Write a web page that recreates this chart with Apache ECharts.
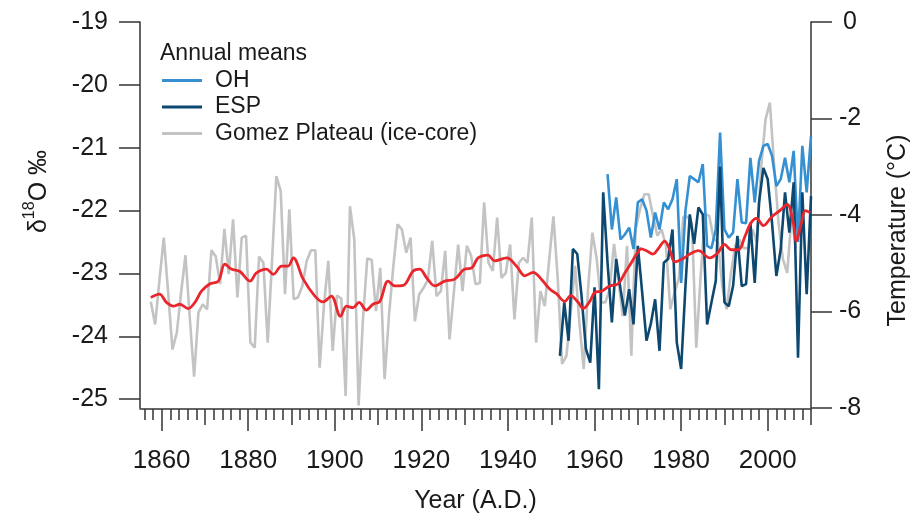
<!DOCTYPE html>
<html>
<head>
<meta charset="utf-8">
<script src="https://cdn.jsdelivr.net/npm/echarts@6/dist/echarts.min.js"></script>
<style>
  html, body { margin: 0; padding: 0; background: #ffffff; }
  #chart { width: 915px; height: 517px; }
</style>
</head>
<body>
<div id="chart"></div>
<script>
// Axis tick labels
const yearLabels = [1860, 1880, 1900, 1920, 1940, 1960, 1980, 2000];
const d18OTicks = [-19, -20, -21, -22, -23, -24, -25];
const tempTicks = [0, -2, -4, -6, -8];

// Gomez Plateau ice-core d18O, annual, first year 1857
const gomezStart = 1857;
const gomezD18O = [
  -23.45, -23.81, -23.1, -22.43, -23.3, -24.21, -23.94, -23.3, -22.71, -23.7,
  -24.64, -23.62, -23.49, -23.57, -22.63, -22.73, -23.17, -22.29, -23.01, -22.14,
  -23.38, -22.43, -22.40, -24.10, -24.18, -22.73, -22.83, -24.10, -22.8, -21.45,
  -21.69, -23.33, -21.98, -23.41, -23.38, -23.2, -22.8, -22.63, -22.63, -24.5,
  -23.5, -22.8, -24.23, -23.35, -23.4, -24.95, -21.93, -22.46, -25.1, -23.73,
  -22.76, -22.78, -23.60, -22.91, -24.68, -23.68, -22.9, -22.22, -22.30, -22.67,
  -22.43, -23.76, -23.33, -23.23, -23.1, -22.48, -23.36, -23.28, -22.64, -24.05,
  -23.3, -22.54, -23.28, -22.56, -22.72, -23.17, -23.15, -21.87, -22.83, -22.96,
  -22.11, -23.07, -22.99, -22.54, -23.73, -22.83, -22.75, -22.83, -22.11, -24.10,
  -23.28, -23.52, -22.8, -22.09, -23.09, -24.44, -24.31, -23.62, -22.88, -23.78,
  -24.52, -23.25, -22.35, -22.77, -23.46, -23.46, -23.25, -22.53, -23.09, -23.68,
  -22.56, -24.31, -22.30, -21.98, -21.74, -21.74, -22.08, -22.40, -22.3, -22.56,
  -23.57, -23.3, -23.07, -22.1, -22.1, -22.2, -24.18, -23.05, -22.06, -22.08,
  -22.45, -22.5, -23.2, -23.57, -23.0, -22.56, -22.46, -22.6, -22.6, -22.3,
  -22.5, -21.3, -20.55, -20.28, -21.3, -22.2, -22.77, -22.99, -22.1, -22.6
];

// OH d18O, annual, first year 1963
const ohStart = 1963;
const ohD18O = [
  -21.42, -22.30, -21.79, -22.46, -22.38, -22.27, -22.61, -21.87, -21.82, -22.0,
  -22.43, -22.03, -22.30, -21.87, -21.98, -21.82, -21.50, -23.15, -22.0, -21.45,
  -21.5, -21.55, -21.26, -22.56, -22.6, -22.3, -20.76, -22.30, -22.43, -22.35,
  -21.5, -22.19, -22.2, -21.16, -21.87, -21.21, -20.97, -20.94, -21.13, -21.61,
  -21.5, -21.16, -21.55, -21.05, -22.5, -20.97, -21.71, -20.81
];

// ESP d18O, annual, first year 1952
const espStart = 1952;
const espD18O = [
  -24.31, -23.46, -24.07, -22.61, -22.69, -23.36, -24.2, -24.42, -23.22, -24.84,
  -21.71, -22.83, -23.78, -22.77, -23.25, -23.67, -23.25, -23.81, -22.56, -23.30,
  -24.07, -23.8, -23.41, -24.23, -22.83, -22.77, -22.30, -24.1, -24.52, -23.2,
  -22.06, -22.53, -21.95, -22.06, -23.81, -23.46, -23.12, -21.30, -23.46, -23.52,
  -23.2, -22.4, -23.2, -23.17, -22.19, -23.15, -21.87, -21.32, -21.5, -22.2,
  -23.04, -22.62, -21.71, -22.35, -21.55, -24.34, -21.71, -23.33, -21.77
];

// Smoothed temperature reconstruction (°C)
const tempYears = [
  1857.5, 1859.5, 1861.1, 1862.7, 1864.2, 1866.1, 1867.7, 1869.2, 1871.1, 1873.1,
  1874.6, 1876.1, 1878.1, 1880.4, 1881.9, 1884.2, 1885.8, 1887.7, 1889.2, 1890.4,
  1892.7, 1895.4, 1897.3, 1899.2, 1901.3, 1902.7, 1904.2, 1905.6, 1907.3, 1908.8,
  1910.4, 1912.3, 1913.9, 1915.8, 1918.1, 1919.6, 1921.2, 1923.1, 1925.4, 1927.7,
  1930.0, 1931.6, 1933.1, 1935.4, 1936.9, 1939.7, 1942.0, 1943.9, 1945.8, 1947.7,
  1949.7, 1951.2, 1953.1, 1954.5, 1956.2, 1957.4, 1958.9, 1960.1, 1961.6, 1963.5,
  1965.4, 1967.0, 1968.5, 1969.7, 1970.8, 1972.0, 1973.5, 1974.7, 1976.2, 1977.4,
  1978.5, 1980.5, 1982.0, 1984.0, 1986.6, 1988.5, 1990.0, 1991.6, 1993.2, 1994.8,
  1996.0, 1997.4, 1999.0, 2000.9, 2002.8, 2004.5, 2005.9, 2006.6, 2007.8, 2008.7,
  2009.8
];
const tempSmooth = [
  -5.71, -5.64, -5.81, -5.89, -5.85, -5.94, -5.81, -5.58, -5.43, -5.37,
  -5.02, -5.12, -5.17, -5.37, -5.20, -5.12, -5.23, -5.06, -5.06, -4.89,
  -5.33, -5.68, -5.80, -5.68, -6.10, -5.89, -5.92, -5.81, -5.97, -5.85,
  -5.79, -5.37, -5.47, -5.46, -5.16, -5.12, -5.30, -5.47, -5.37, -5.33,
  -5.12, -5.10, -4.89, -4.83, -4.95, -4.89, -5.06, -5.26, -5.19, -5.33,
  -5.54, -5.63, -5.79, -5.67, -5.81, -5.94, -5.79, -5.60, -5.58, -5.47,
  -5.43, -5.20, -4.99, -4.81, -4.70, -4.74, -4.81, -4.70, -4.54, -4.72,
  -4.97, -4.90, -4.81, -4.74, -4.89, -4.78, -4.61, -4.72, -4.72, -4.43,
  -4.18, -4.07, -4.22, -4.04, -3.91, -3.78, -4.16, -4.54, -4.16, -3.91,
  -3.95
];

const FONT = "'Liberation Sans', Arial, Helvetica, sans-serif";
const INK = '#1a1a1a';
const AXIS = '#333333';

// annual series -> [year, value]; ice-core samples sit at mid-year
function annual(start, values, shift) {
  return values.map((v, i) => [start + i + shift, v]);
}

// decade and two-year ticks between the labelled 20-year ticks
const decadeTicks = [];
for (let y = 1870; y <= 2010; y += 20) decadeTicks.push(y);
const minorTicks = [];
for (let y = 1856; y <= 2008; y += 2) if (y % 10 !== 0) minorTicks.push(y);

const baseX = {
  type: 'value', min: 1855, max: 2010, position: 'bottom', offset: 1,
  splitLine: { show: false },
  axisLine: { show: false, onZero: false },
  axisLabel: { show: false },
  axisTick: { show: false }
};

const chart = echarts.init(document.getElementById('chart'), null, { renderer: 'canvas' });

chart.setOption({
  backgroundColor: '#ffffff',
  animation: false,
  textStyle: { fontFamily: FONT },
  grid: { left: 140, right: 104, top: 22, bottom: 109, containLabel: false, outerBoundsMode: 'none' },
  title: {
    text: 'Annual means',
    left: 155, top: 37,
    textStyle: { fontFamily: FONT, fontSize: 23, fontWeight: 'normal', color: INK }
  },
  legend: {
    orient: 'vertical',
    left: 162, top: 69,
    padding: 0,
    itemWidth: 40, itemHeight: 3, itemGap: 3.5,
    icon: 'rect',
    data: ['OH', 'ESP', 'Gomez Plateau (ice-core)'],
    textStyle: { fontFamily: FONT, fontSize: 23, color: INK, lineHeight: 23, padding: [0, 0, 0, 8] }
  },
  xAxis: [
    Object.assign({}, baseX, {
      axisLine: { show: true, onZero: false, lineStyle: { color: AXIS, width: 1.5 } },
      axisTick: { show: true, length: 22, customValues: yearLabels, lineStyle: { color: AXIS, width: 1.5 } },
      axisLabel: {
        show: true, customValues: yearLabels, margin: 39,
        fontFamily: FONT, fontSize: 26, color: INK,
        formatter: v => String(v)
      },
      name: 'Year (A.D.)', nameLocation: 'middle', nameGap: 80,
      nameTextStyle: { fontFamily: FONT, fontSize: 25, color: INK }
    }),
    Object.assign({}, baseX, {
      axisTick: { show: true, length: 16, customValues: decadeTicks, lineStyle: { color: AXIS, width: 1.5 } }
    }),
    Object.assign({}, baseX, {
      axisTick: { show: true, length: 11, customValues: minorTicks, lineStyle: { color: AXIS, width: 1.5 } }
    })
  ],
  yAxis: [
    {
      type: 'value', min: -25.14, max: -19, position: 'left',
      splitLine: { show: false },
      axisLine: { show: true, onZero: false, lineStyle: { color: AXIS, width: 1.5 } },
      axisTick: { show: true, length: 21, customValues: d18OTicks, lineStyle: { color: AXIS, width: 1.5 } },
      axisLabel: {
        customValues: d18OTicks, margin: 32,
        fontFamily: FONT, fontSize: 25, color: INK,
        formatter: v => String(v)
      },
      name: '{a|δ}{s|18}{a|O ‰}',
      nameLocation: 'middle', nameGap: 88,
      nameTextStyle: {
        padding: [0, 0, 0, 47],
        rich: {
          a: { fontFamily: FONT, fontSize: 25, color: INK, lineHeight: 30, verticalAlign: 'bottom' },
          s: { fontFamily: FONT, fontSize: 16, color: INK, lineHeight: 30, verticalAlign: 'top' }
        }
      }
    },
    {
      type: 'value', min: -8, max: 0, interval: 2, position: 'right',
      splitLine: { show: false },
      axisLine: { show: true, onZero: false, lineStyle: { color: AXIS, width: 1.5 } },
      axisTick: { show: true, length: 21, lineStyle: { color: AXIS, width: 1.5 } },
      axisLabel: {
        margin: 39, align: 'center', fontFamily: FONT, fontSize: 25, color: INK,
        formatter: v => String(v)
      },
      name: 'Temperature (°C)',
      nameLocation: 'middle', nameGap: 75,
      nameTextStyle: { fontFamily: FONT, fontSize: 25, color: INK, padding: [0, 31, 0, 0] }
    }
  ],
  series: [
    {
      name: 'Gomez Plateau (ice-core)', type: 'line', xAxisIndex: 0, yAxisIndex: 0,
      data: annual(gomezStart, gomezD18O, 0.5),
      symbol: 'none', lineStyle: { color: '#c3c3c3', width: 2.6 }, itemStyle: { color: '#c3c3c3' },
      z: 2
    },
    {
      name: 'OH', type: 'line', xAxisIndex: 0, yAxisIndex: 0,
      data: annual(ohStart, ohD18O, 0),
      symbol: 'none', lineStyle: { color: '#3590d2', width: 2.6 }, itemStyle: { color: '#3590d2' },
      z: 3
    },
    {
      name: 'ESP', type: 'line', xAxisIndex: 0, yAxisIndex: 0,
      data: annual(espStart, espD18O, 0),
      symbol: 'none', lineStyle: { color: '#0d4870', width: 2.6 }, itemStyle: { color: '#0d4870' },
      z: 4
    },
    {
      name: 'Temperature', type: 'line', xAxisIndex: 0, yAxisIndex: 1,
      data: tempYears.map((y, i) => [y, tempSmooth[i]]),
      symbol: 'none', smooth: 0.35,
      lineStyle: { color: '#e8262c', width: 2.8 }, itemStyle: { color: '#e8262c' },
      z: 5
    }
  ]
});
</script>
</body>
</html>
